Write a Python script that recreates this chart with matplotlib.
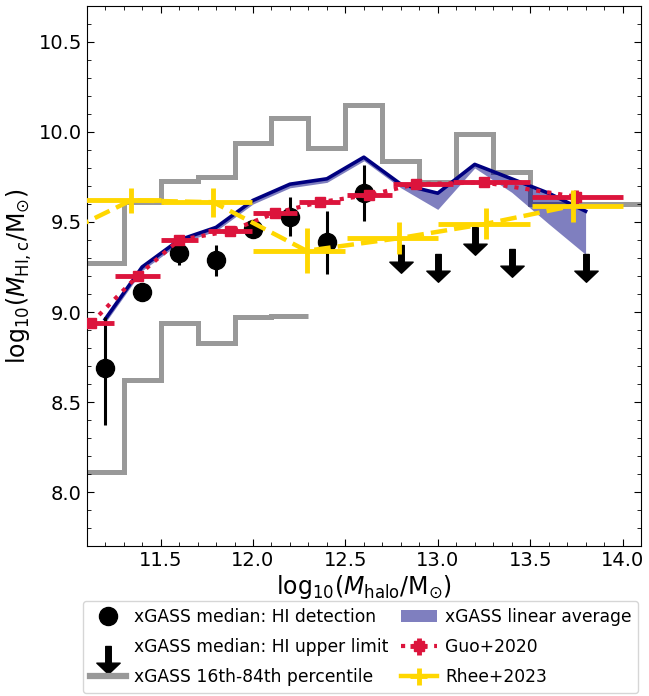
import numpy as np
import matplotlib
matplotlib.use('Agg')
import matplotlib.pyplot as plt
from matplotlib.path import Path
from matplotlib.lines import Line2D
from matplotlib.legend_handler import HandlerTuple

# xGASS medians for HI detections
det_x = [11.2, 11.4, 11.6, 11.8, 12.0, 12.2, 12.4, 12.6]
det_y = [8.69, 9.11, 9.33, 9.29, 9.46, 9.53, 9.39, 9.66]
det_lo = [0.32, 0.05, 0.07, 0.09, 0.03, 0.11, 0.18, 0.155]
det_hi = [0.28, 0.05, 0.06, 0.08, 0.03, 0.11, 0.17, 0.155]

# xGASS medians that are only HI upper limits
lim_x = [12.8, 13.0, 13.2, 13.4, 13.8]
lim_y = [9.37, 9.32, 9.47, 9.35, 9.32]

# 16th-84th percentile envelope (bin edges + values)
p84_edges = [11.1, 11.3, 11.5, 11.7, 11.9, 12.1, 12.3, 12.5, 12.7, 12.9, 13.1, 13.3, 13.5, 13.7, 13.9, 14.1]
p84 = [9.27, 9.61, 9.73, 9.75, 9.94, 10.08, 9.91, 10.15, 9.84, 9.72, 9.99, 9.78, 9.60, 9.60, 9.60]
p16_edges = [11.1, 11.3, 11.5, 11.7, 11.9, 12.1, 12.3]
p16 = [8.11, 8.62, 8.94, 8.83, 8.97, 8.98]

# linear average and the lower edge of its band
avg_x = [11.2, 11.4, 11.6, 11.8, 12.0, 12.2, 12.4, 12.6, 12.8, 13.0, 13.2, 13.4, 13.6, 13.8]
avg_y = [8.96, 9.25, 9.40, 9.47, 9.62, 9.71, 9.74, 9.86, 9.71, 9.66, 9.82, 9.74, 9.66, 9.56]
avg_low = [8.94, 9.23, 9.38, 9.45, 9.60, 9.69, 9.72, 9.84, 9.69, 9.57, 9.80, 9.665, 9.49, 9.32]

# Guo+2020
guo_x = [11.125, 11.375, 11.6, 11.875, 12.12, 12.36, 12.63, 12.88, 13.25, 13.75]
guo_y = [8.94, 9.20, 9.40, 9.45, 9.55, 9.61, 9.65, 9.71, 9.72, 9.64]
guo_xlo = [0.125, 0.12, 0.10, 0.12, 0.12, 0.11, 0.12, 0.12, 0.17, 0.24]
guo_xhi = [0.125, 0.12, 0.10, 0.12, 0.12, 0.11, 0.12, 0.20, 0.25, 0.25]
guo_yerr = [0.02, 0.02, 0.02, 0.02, 0.02, 0.02, 0.02, 0.02, 0.02, 0.04]

# Rhee+2023
rhee_x = [10.8, 11.34, 11.785, 12.29, 12.79, 13.26, 13.73]
rhee_y = [9.35, 9.62, 9.61, 9.34, 9.41, 9.49, 9.59]
rhee_xlo = [0.30, 0.34, 0.285, 0.29, 0.28, 0.26, 0.22]
rhee_xhi = [0.20, 0.16, 0.21, 0.21, 0.21, 0.24, 0.27]
rhee_yerr = [0.08, 0.07, 0.08, 0.125, 0.09, 0.085, 0.09]

# down arrow marker, origin at the top of the shaft
arrow = Path([(-0.1, 0), (0.1, 0), (0.1, -0.6), (0.42, -0.6), (0, -1),
              (-0.42, -0.6), (-0.1, -0.6), (-0.1, 0)],
             [Path.MOVETO] + [Path.LINETO] * 6 + [Path.CLOSEPOLY])

fig = plt.figure(figsize=(6.49, 6.96), dpi=100)
ax = fig.add_axes([0.1336, 0.2155, 0.8541, 0.7759])

ax.stairs(p84, p84_edges, baseline=None, color='0.6', lw=3.6, zorder=1)
ax.stairs(p16, p16_edges, baseline=None, color='0.6', lw=3.6, zorder=1)
ax.fill_between(avg_x, avg_low, avg_y, color='navy', alpha=0.5, lw=0, zorder=2)
ax.plot(avg_x, avg_y, color='navy', lw=2.6, zorder=3)

det = ax.errorbar(det_x, det_y, yerr=[det_lo, det_hi], fmt='o', color='black',
                  ms=13, elinewidth=2.2, capsize=0, zorder=4)
lim, = ax.plot(lim_x, lim_y, ls='none', marker=arrow, ms=40, color='black', zorder=4)

guo = ax.errorbar(guo_x, guo_y, xerr=[guo_xlo, guo_xhi], yerr=guo_yerr, fmt='s:',
                  color='crimson', ms=7, lw=3, elinewidth=3.5, capsize=0, zorder=5)

ax.plot(rhee_x, rhee_y, ls='--', color='gold', lw=3.2, zorder=6)
rhee = ax.errorbar(rhee_x, rhee_y, xerr=[rhee_xlo, rhee_xhi], yerr=rhee_yerr, fmt='none',
                   color='gold', elinewidth=3.5, capsize=0, zorder=6)

ax.set_xlim(11.1, 14.1)
ax.set_ylim(7.7, 10.7)
ax.set_xticks([11.5, 12.0, 12.5, 13.0, 13.5, 14.0])
ax.set_yticks([8.0, 8.5, 9.0, 9.5, 10.0, 10.5])
ax.xaxis.set_minor_locator(matplotlib.ticker.MultipleLocator(0.1))
ax.yaxis.set_minor_locator(matplotlib.ticker.MultipleLocator(0.1))
ax.tick_params(which='both', direction='in', top=True, right=True, labelsize=14)
ax.tick_params(which='major', length=5)
ax.tick_params(which='minor', length=3)

ax.set_xlabel(r'$\mathrm{log}_{10}(M_{\rm halo}/\rm M_{\odot})$', fontsize=17, labelpad=2)
ax.set_ylabel(r'$\mathrm{log}_{10}(M_{\rm HI,c}/\rm M_{\odot})$', fontsize=17, labelpad=3)

handles = [det, lim, Line2D([], [], color='0.6', lw=4.5),
           plt.Rectangle((0, 0), 1, 1, color='navy', alpha=0.5, lw=0),
           guo, (Line2D([], [], color='gold', lw=3.2), rhee)]
labels = ['xGASS median: HI detection', 'xGASS median: HI upper limit',
          'xGASS 16th-84th percentile', 'xGASS linear average', 'Guo+2020', 'Rhee+2023']
fig.legend(handles, labels, ncol=2, loc='upper left', bbox_to_anchor=(0.128, 0.1365),
           borderaxespad=0, fontsize=12.3, labelspacing=0.72, columnspacing=0.7,
           handletextpad=0.5, handlelength=2.1,
           handler_map={tuple: HandlerTuple(ndivide=1)})

fig.savefig('out.png', dpi=100)
